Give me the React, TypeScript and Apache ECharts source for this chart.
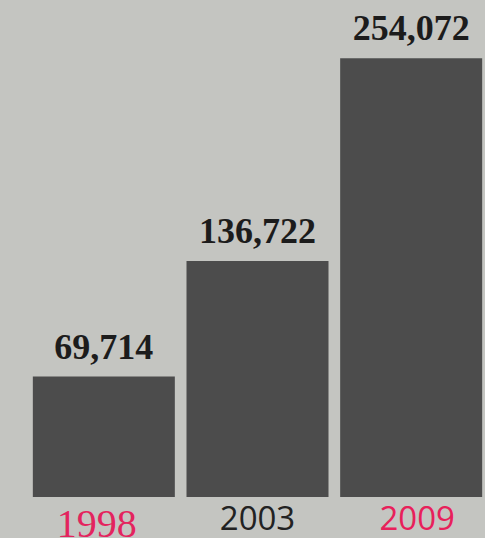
import React, { useEffect, useRef } from "react";
import * as echarts from "echarts";

const years = ["1998", "2003", "2009"];
const values = [69714, 136722, 254072];
const yearColors = ["#e3245e", "#222222", "#e8205a"];
const yearFonts = ["Liberation Serif", "Open Sans", "Open Sans"];
const yearSizes = [40, 33, 33];

export default function App() {
  const ref = useRef<HTMLDivElement>(null);
  useEffect(() => {
    if (!ref.current) return;
    const chart = echarts.init(ref.current, undefined, { renderer: "svg" });
    chart.setOption({
      animation: false,
      backgroundColor: "#c4c5c1",
      grid: { left: 27, right: -3, top: 48, bottom: 41, outerBoundsMode: "none", containLabel: false },
      xAxis: {
        type: "category",
        data: years,
        axisLine: { show: false },
        axisTick: { show: false },
        axisLabel: { show: false },
      },
      yAxis: {
        type: "value",
        min: 0,
        max: 260000,
        show: false,
        splitLine: { show: false },
      },
      series: [
        {
          type: "bar",
          data: values,
          barWidth: 142,
          itemStyle: { color: "#4c4c4c" },
          label: {
            show: true,
            position: "top",
            distance: 12,
            fontFamily: "Liberation Serif",
            fontWeight: "bold",
            fontSize: 36,
            color: "#1c1c1c",
            formatter: (p: any) => p.value.toLocaleString("en-US"),
          },
        },
        {
          type: "bar",
          barGap: "-100%",
          barWidth: 142,
          silent: true,
          itemStyle: { color: "rgba(0,0,0,0)" },
          data: values.map((v, i) => ({
            value: v,
            label: {
              show: true,
              position: "bottom",
              distance: i === 0 ? 6 : 4,
              offset: i === 0 ? [-7, 0] : i === 2 ? [6, 0] : [0, 0],
              fontFamily: yearFonts[i],
              fontSize: yearSizes[i],
              color: yearColors[i],
              formatter: () => years[i],
            },
          })),
        },
      ],
    });
    return () => chart.dispose();
  }, []);
  return (
    <div
      ref={ref}
      style={{ position: "fixed", left: 0, top: 0, width: 485, height: 538 }}
    />
  );
}
